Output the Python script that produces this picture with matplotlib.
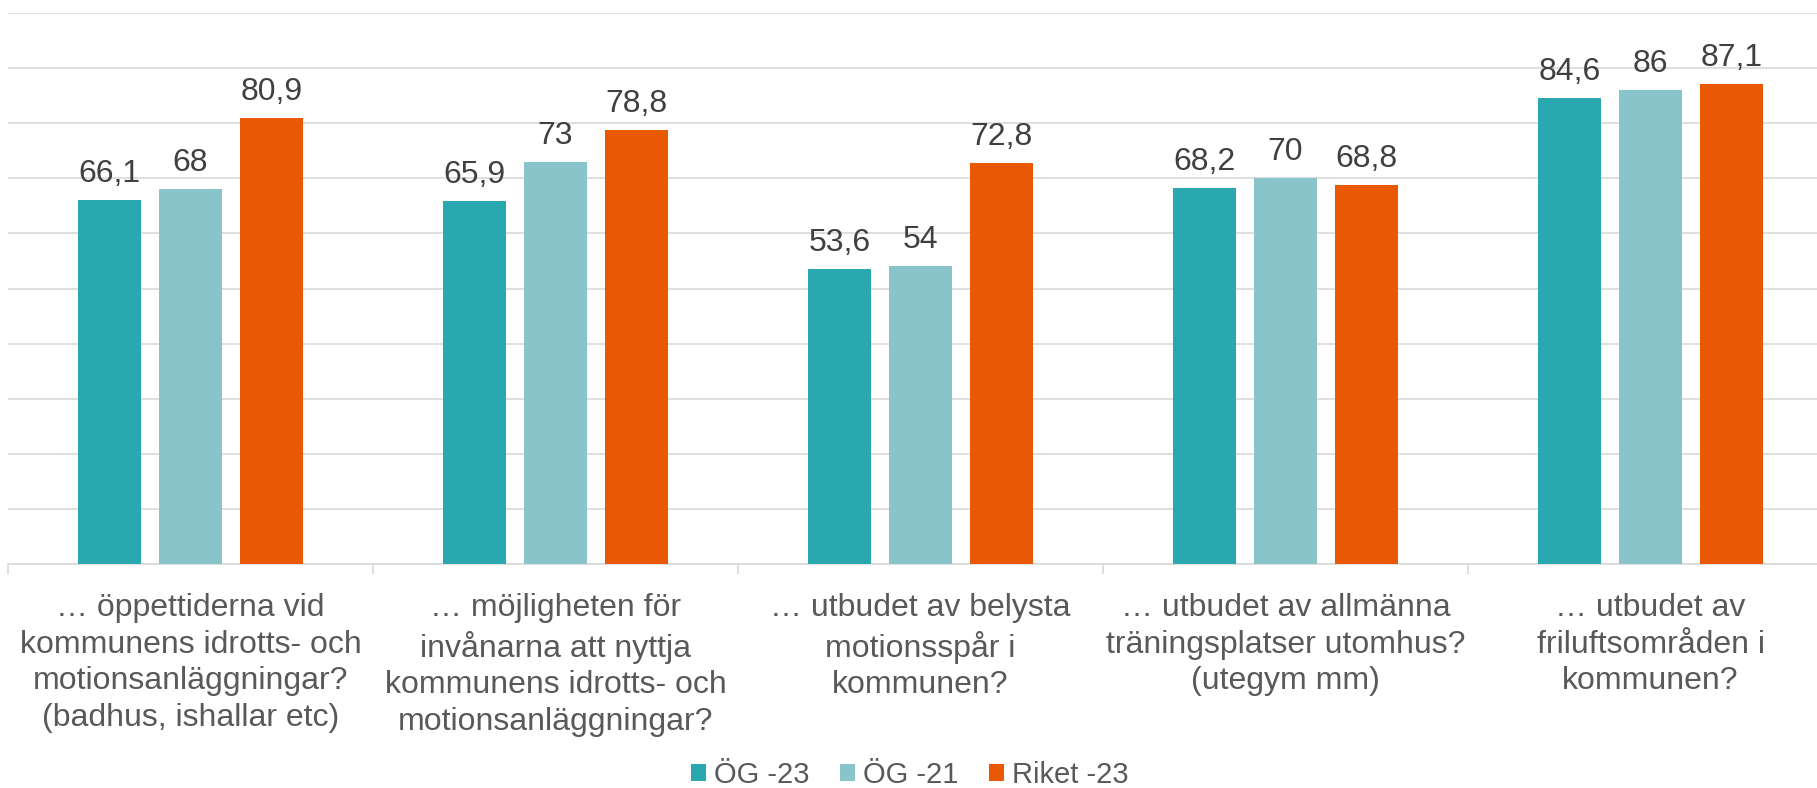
import matplotlib
matplotlib.use("Agg")
import matplotlib.pyplot as plt
import numpy as np

categories = [
    "… öppettiderna vid\nkommunens idrotts- och\nmotionsanläggningar?\n(badhus, ishallar etc)",
    "… möjligheten för\ninvånarna att nyttja\nkommunens idrotts- och\nmotionsanläggningar?",
    "… utbudet av belysta\nmotionsspår i\nkommunen?",
    "… utbudet av allmänna\nträningsplatser utomhus?\n(utegym mm)",
    "… utbudet av\nfriluftsområden i\nkommunen?",
]
series_names = ["ÖG -23", "ÖG -21", "Riket -23"]
og23 = [66.1, 65.9, 53.6, 68.2, 84.6]
og21 = [68, 73, 54, 70, 86]
riket23 = [80.9, 78.8, 72.8, 68.8, 87.1]
colors = ["#2AA8B0", "#89C4CB", "#E95904"]

plt.rcParams['font.family'] = ['Liberation Sans', 'DejaVu Sans']

W, H = 1817, 788
fig = plt.figure(figsize=(W/100, H/100), dpi=100)
ax = fig.add_axes([8/W, (H-564.3)/H, 1825/W, (564.3-12.7)/H])

x = np.arange(len(categories))
step = 0.222
bw = 0.174
for k, (vals, name, c) in enumerate(zip([og23, og21, riket23], series_names, colors)):
    pos = x + (k-1)*step
    ax.bar(pos, vals, width=bw, color=c, label=name, zorder=3)
    for p, v in zip(pos, vals):
        txt = f"{v:g}".replace(".", ",")
        ax.annotate(txt, (p, v), xytext=(0, 13), textcoords="offset points",
                    ha="center", va="baseline", fontsize=23, color="#404040")

ax.set_xlim(-0.5, len(categories)-0.5)
ax.set_ylim(0, 100)
ax.set_yticks(np.arange(0, 101, 10))
ax.yaxis.grid(True, color="#D9D9D9", linewidth=1.2, zorder=0)
ax.set_axisbelow(True)
ax.tick_params(axis="y", left=False, labelleft=False)
for s in ["left", "right", "top"]:
    ax.spines[s].set_visible(False)
ax.spines["bottom"].set_color("#D9D9D9")
ax.spines["bottom"].set_linewidth(1.2)

ax.set_xticks(x)
ax.set_xticklabels(categories, fontsize=23, color="#595959", linespacing=1.28)
ax.tick_params(axis="x", which="major", length=0, pad=21)
ax.set_xticks(np.arange(-0.5, len(categories)), minor=True)
ax.tick_params(axis="x", which="minor", length=7.5, color="#D9D9D9", width=1.2)

leg = fig.legend(loc="center", bbox_to_anchor=(910/W, (H-775)/H), ncol=3,
                 frameon=False, fontsize=21, handlelength=0.52, handleheight=0.52,
                 handletextpad=0.27, columnspacing=1.05, labelcolor="#595959")

fig.savefig("out.png", dpi=100)
